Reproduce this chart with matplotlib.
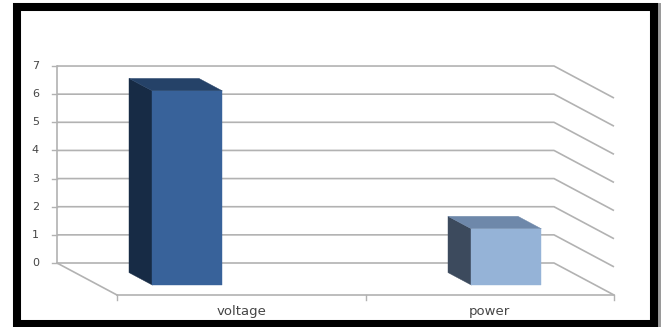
import matplotlib
matplotlib.use("Agg")
import matplotlib.pyplot as plt
from matplotlib.patches import Polygon, Rectangle

categories = ["voltage", "power"]
values = [6.9, 2.0]
y_ticks = [0, 1, 2, 3, 4, 5, 6, 7]

W, H = 663, 327
fig = plt.figure(figsize=(W / 100, H / 100), dpi=100, facecolor="white")
ax = fig.add_axes([0, 0, 1, 1])
ax.axis("off")

# axes calibrated so that x is in category widths and y in chart units
cat_w = 248.5
unit_h = 28.14
ax.set_xlim(-57 / cat_w, (W - 57) / cat_w)
ax.set_ylim(-(H - 263) / unit_h, 263 / unit_h)

# oblique offset of the whole floor, depth 0 at back wall, depth 1 at front
skew_x = 60 / cat_w
skew_y = 32 / unit_h


def project(x, y, depth):
    return x + depth * skew_x, y - depth * skew_y


grid_color = "#b2b2b2"
text_color = "#454545"
n_cat = len(categories)

# back wall and right-hand wall gridlines
for t in y_ticks:
    x1, y1 = project(n_cat, t, 1)
    ax.plot([0, n_cat, x1], [t, t, y1], color=grid_color, lw=1.2, solid_capstyle="butt", zorder=1)
    ax.plot([-5 / cat_w, 0], [t, t], color=grid_color, lw=1.0, zorder=1)
    ax.text(-18 / cat_w, t, str(t), ha="right", va="center", fontsize=8,
            color=text_color, family="DejaVu Sans")

ax.plot([0, 0], [0, y_ticks[-1]], color=grid_color, lw=1.2, zorder=1)

# floor edges and the category axis with its ticks
fx0, fy = project(0, 0, 1)
fx1, _ = project(n_cat, 0, 1)
ax.plot([0, fx0], [0, fy], color=grid_color, lw=1.2, zorder=1)
ax.plot([fx0, fx1], [fy, fy], color=grid_color, lw=1.2, zorder=1)
for i in range(n_cat + 1):
    tx, _ = project(i, 0, 1)
    ax.plot([tx, tx], [fy, fy - 5 / unit_h], color=grid_color, lw=1.0, zorder=1)
for i, name in enumerate(categories):
    tx, _ = project(i + 0.5, 0, 1)
    ax.text(tx, fy - 16.5 / unit_h, name, ha="center", va="center", fontsize=9.5,
            color=text_color, family="DejaVu Sans")

# 3D columns: front face, left side and top
bar_left = [0.2173, 1.501]
bar_w = 70 / cat_w
depth_back, depth_front = 0.3, 0.69
front_colors = ["#38629a", "#95b3d7"]
side_colors = ["#172b45", "#3c4a5d"]
top_colors = ["#254268", "#6e88aa"]

for left, v, fc, sc, tc in zip(bar_left, values, front_colors, side_colors, top_colors):
    right = left + bar_w
    a = project(left, 0, depth_front)
    b = project(right, 0, depth_front)
    c = project(right, v, depth_front)
    d = project(left, v, depth_front)
    e = project(left, 0, depth_back)
    f = project(left, v, depth_back)
    g = project(right, v, depth_back)
    ax.add_patch(Polygon([e, a, d, f], closed=True, fc=sc, ec=sc, lw=0.3, zorder=3))
    ax.add_patch(Polygon([f, d, c, g], closed=True, fc=tc, ec=tc, lw=0.3, zorder=3))
    ax.add_patch(Polygon([a, b, c, d], closed=True, fc=fc, ec=fc, lw=0.3, zorder=4))

# heavy black border with a soft grey edge on the right
fig.add_artist(Rectangle((657, 0), 4, H - 3, transform=None, fc="#9a9a9a", ec="none"))
fig.add_artist(Rectangle((17, 3), 636.5, 317, transform=None, fill=False, ec="black",
                         lw=5.8, joinstyle="miter"))

fig.savefig("out.png", dpi=100, facecolor="white")
